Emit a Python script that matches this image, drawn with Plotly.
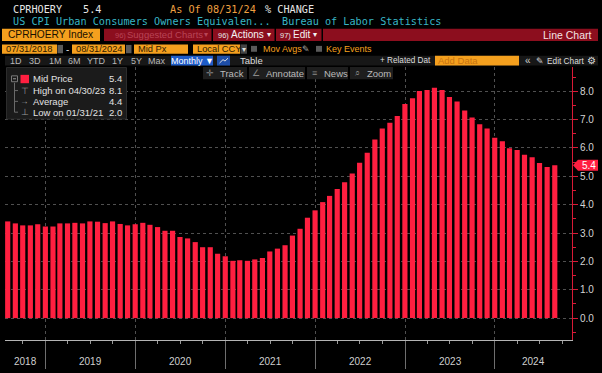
import pandas as pd
import plotly.graph_objects as go

# ---------------- data ----------------
ticker = "CPRHOERY"
security = "CPRHOERY Index"
description = "US CPI Urban Consumers Owners Equivalen..."
source = "Bureau of Labor Statistics"
unit_label = "% CHANGE"
start_label = "07/31/2018"
end_label = "08/31/2024"
dates = pd.date_range("2018-07-31", "2024-08-31", freq="ME")
values = [
    3.41, 3.34, 3.27, 3.27, 3.31, 3.23,                                      # 2018 H2
    3.23, 3.34, 3.34, 3.36, 3.34, 3.41, 3.40, 3.35, 3.41, 3.32, 3.27, 3.31,  # 2019
    3.36, 3.29, 3.21, 3.08, 3.08, 2.86, 2.81, 2.68, 2.50, 2.50, 2.27, 2.18,  # 2020
    2.02, 2.04, 2.02, 2.07, 2.12, 2.35, 2.45, 2.57, 2.91, 3.15, 3.54, 3.80,  # 2021
    4.09, 4.31, 4.55, 4.79, 5.10, 5.48, 5.83, 6.30, 6.69, 6.89, 7.13, 7.55,  # 2022
    7.75, 8.01, 8.04, 8.12, 8.04, 7.80, 7.64, 7.32, 7.07, 6.84, 6.69, 6.36,  # 2023
    6.24, 5.99, 5.93, 5.76, 5.67, 5.47, 5.33, 5.39,                          # 2024
]
years = [2018, 2019, 2020, 2021, 2022, 2023, 2024]
y_ticks = [0, 1, 2, 3, 4, 5, 6, 7, 8]
period_buttons = ["1D", "3D", "1M", "6M", "YTD", "1Y", "5Y", "Max"]

s = pd.Series(values, index=dates)
last_v = s.iloc[-1]
hi_v, hi_d = s.max(), s.idxmax()
lo_v, lo_d = s.min(), s.idxmin()
avg_v = s.mean()

# ---------------- geometry / style ----------------
W, H = 602, 373
L, R, T, B = 5, 572, 67, 345
X_RANGE = [pd.Timestamp("2018-07-20"), pd.Timestamp("2024-11-09")]
Y_RANGE = [-0.772, 8.855]

MONO = "DejaVu Sans Mono, Liberation Mono, monospace"
SANS = "Liberation Sans, Arial, sans-serif"
ORANGE = "#F5A01E"
DRED = "#8C0E1E"
BAR = "#FF1F40"
AXRED = "#D81A36"
GRID = "#505050"


def PX(x):
    return (x - L) / (R - L)


def PY(y):
    return (B - y) / (B - T)


shapes, annos = [], []


def rect(x0, y0, x1, y1, fill, line=None):
    shapes.append(dict(type="rect", xref="paper", yref="paper",
                       x0=PX(x0), x1=PX(x1), y0=PY(y1), y1=PY(y0),
                       fillcolor=fill, layer="above",
                       line=dict(width=0) if line is None else dict(color=line, width=1)))


def seg(x0, y0, x1, y1, color, width=1):
    shapes.append(dict(type="line", xref="paper", yref="paper",
                       x0=PX(x0), x1=PX(x1), y0=PY(y0), y1=PY(y1), layer="above",
                       line=dict(color=color, width=width)))


def text(x, y, s_, color, size, family=SANS, anchor="left"):
    annos.append(dict(xref="paper", yref="paper", x=PX(x), y=PY(y), text=s_,
                      showarrow=False, xanchor=anchor, yanchor="middle",
                      borderpad=0, font=dict(color=color, size=size, family=family)))


# ---- row 1 / row 2 : header ----
text(12, 8, ticker, "#E6E6E6", 10.2, MONO)
text(82, 8, f"{last_v:.1f}", "#E6E6E6", 10.2, MONO)
text(169, 8, f"As Of {dates[-1]:%m/%d/%y}", "#F0A040", 10.2, MONO)
text(264, 8, unit_label, "#E6E6E6", 10.2, MONO)
text(12, 20.5, description, "#38B6C6", 10.2, MONO)
text(281, 20.5, source, "#38B6C6", 10.2, MONO)

# ---- row 3 ----
rect(2, 28, 100, 40.5, ORANGE)
text(7, 34.3, security, "#1A1000", 10.2)
rect(104, 28, 211.5, 40.5, DRED)
rect(213, 28, 274.5, 40.5, DRED)
rect(276, 28, 321.5, 40.5, DRED)
rect(323, 28, 598, 40.5, DRED)
text(114, 34.5, "96)", "#B84456", 7.5)
text(126, 34.3, "Suggested Charts", "#B84456", 9.5)
text(206, 34.3, "\u25be", "#B84456", 8, anchor="center")
text(217, 34.5, "96)", "#E8E8E8", 7.5)
text(230, 34.3, "Actions", "#F4F4F4", 10)
text(269, 34.3, "\u25be", "#F4F4F4", 8, anchor="center")
text(279, 34.5, "97)", "#E8E8E8", 7.5)
text(292, 34.3, "Edit", "#F4F4F4", 10)
text(315, 34.3, "\u25be", "#F4F4F4", 8, anchor="center")
text(593, 34.3, "Line Chart", "#F4E4E4", 10.5, anchor="right")

# ---- row 4 ----
for (x0, x1, lab) in [(2, 57, start_label), (72, 125, end_label), (134, 188, "Mid Px"), (193, 240, "Local CCY")]:
    rect(x0, 44, x1, 53.5, ORANGE)
    text(x0 + 3, 48.8, lab, "#2A1800", 9.3)
for x0 in (57.5, 126):
    rect(x0, 44.5, x0 + 5.5, 53, "#5A5A5A")
rect(240.5, 44, 247, 53.5, "#444444")
text(243.7, 48.8, "\u25be", "#DDDDDD", 8, anchor="center")
text(67, 48.8, "-", "#DDDDDD", 10, anchor="center")
rect(251, 45.5, 257, 51.5, "#5A5A5A")
text(262, 48.8, "Mov Avgs", ORANGE, 9)
text(306, 48.8, "\u270e", "#AAAAAA", 8.5, anchor="center")
rect(316, 45.5, 322, 51.5, "#5A5A5A")
text(325, 48.8, "Key Events", ORANGE, 9)

# ---- row 5 ----
rect(5, 55.5, 598, 65.5, "#171717")
btn_centers = [16, 35, 55, 74, 96, 117, 136, 157]
for cx, lab in zip(btn_centers, period_buttons):
    text(cx, 60.5, lab, "#B8B8B8", 9, anchor="center")
rect(171, 55.5, 213, 65.5, "#1E5CC8")
text(192, 60.5, "Monthly \u25bc", "#FFFFFF", 9, anchor="center")
rect(217, 55.5, 230, 65.5, "#1E4EA8")
seg(219.5, 63, 223, 59.5, "#E0E0E0")
seg(223, 59.5, 225, 61, "#E0E0E0")
seg(225, 61, 228, 58, "#E0E0E0")
text(251, 60.5, "Table", "#DDDDDD", 9.5, anchor="center")
text(379, 60.5, "+ Related Dat", "#DDDDDD", 8.2)
rect(435, 55.5, 519, 65.5, ORANGE)
text(437, 60.5, "Add Data", "#C87410", 9.5)
text(528, 60.5, "\u00ab", "#CCCCCC", 10, anchor="center")
text(540, 60.5, "\u270e", "#DDDDDD", 8.5, anchor="center")
text(546, 60.5, "Edit Chart", "#DDDDDD", 8.3)
text(591, 60.5, "\u2699", "#DDDDDD", 10, anchor="center")

# ---- row 6 toolbar ----
for (x0, x1, icon, lab) in [(203, 247, "\u271b", "Track"), (249, 305, "\u2220", "Annotate"),
                            (307, 348, "\u2261", "News"), (350, 393, "\u2315", "Zoom")]:
    rect(x0, 67, x1, 79.5, "#1E1E1E")
    text(x0 + 7, 73.3, icon, "#8A8A8A", 9, anchor="center")
    text(x0 + 16, 73.3, lab, "#BBBBBB", 9.5)

# ---- legend box ----
rect(6.5, 67.5, 126.5, 120, "#1B1B1B", line="#2C2C2C")
rect(11.5, 76, 17.5, 82, "#1B1B1B", line="#7A7A7A")
seg(13, 79, 16, 79, "#9A9A9A")
seg(14.5, 83, 14.5, 113, "#6A6A6A")
for yy in (91, 102, 113):
    seg(14.5, yy, 18, yy, "#6A6A6A")
rect(20.5, 75, 29, 83.5, BAR)
legend_rows = [
    (79, None, "Mid Price", f"{last_v:.1f}"),
    (91, "\u22a4", f"High on {hi_d:%m/%d/%y}", f"{hi_v:.1f}"),
    (102, "\u2192", "Average", f"{avg_v:.1f}"),
    (113, "\u22a5", f"Low on {lo_d:%m/%d/%y}", f"{lo_v:.1f}"),
]
for yy, sym, lab, val in legend_rows:
    if sym:
        text(24.5, yy, sym, "#9A9A9A", 8.5, anchor="center")
    text(31.5, yy, lab, "#E2E2E2", 9.5)
    text(122.5, yy, val, "#E2E2E2", 9.5, anchor="right")

# ---- last value tag on axis ----
shapes.append(dict(type="path", xref="paper", yref="y", xsizemode="pixel", ysizemode="pixel",
                   xanchor=1, yanchor=last_v, layer="above",
                   path="M 1 0 L 6 5.5 L 26 5.5 L 26 -5.5 L 6 -5.5 Z",
                   fillcolor=BAR, line=dict(width=0)))
annos.append(dict(xref="paper", yref="y", x=1, y=last_v, xshift=16.5, text=f"{last_v:.1f}",
                  showarrow=False, xanchor="center", yanchor="middle",
                  font=dict(color="#FFFFFF", size=10, family=SANS)))

# ---- year labels (centred on visible part of each year) ----
for yr in years:
    a = max(pd.Timestamp(f"{yr}-01-01"), X_RANGE[0])
    b = min(pd.Timestamp(f"{yr + 1}-01-01"), X_RANGE[1])
    mid = a + (b - a) / 2
    annos.append(dict(xref="x", yref="paper", x=mid, y=PY(366.5), text=str(yr),
                      showarrow=False, xanchor="center", yanchor="middle",
                      font=dict(color="#CFCFCF", size=10, family=SANS)))

year_starts = [pd.Timestamp(f"{yr}-01-01") for yr in years[1:]]
quarter_ticks = list(pd.date_range("2018-10-01", "2024-10-01", freq="QS"))

fig = go.Figure()
fig.add_trace(go.Bar(x=dates, y=values, marker=dict(color=BAR, line=dict(width=0)),
                     width=21 * 24 * 3600 * 1000, hoverinfo="skip", showlegend=False))

fig.update_layout(
    width=W, height=H,
    margin=dict(l=L, r=W - R, t=T, b=H - B, pad=0),
    paper_bgcolor="#000000", plot_bgcolor="#000000",
    showlegend=False,
    xaxis=dict(type="date", range=X_RANGE, tickvals=year_starts, showticklabels=False,
               ticks="outside", ticklen=28, tickcolor="#6E6E6E", tickwidth=1,
               showgrid=True, gridcolor=GRID, griddash="dot", gridwidth=1,
               showline=True, linecolor="#B4B4B4", linewidth=1, zeroline=False,
               minor=dict(tickvals=quarter_ticks, ticks="outside", ticklen=3,
                          tickcolor="#9A9A9A", showgrid=False)),
    yaxis=dict(side="right", range=Y_RANGE, tickvals=y_ticks, tickformat=".1f",
               ticks="outside", ticklen=5, tickcolor=AXRED, tickwidth=1,
               showline=True, linecolor=AXRED, linewidth=1,
               showgrid=True, gridcolor=GRID, griddash="dot", gridwidth=1, zeroline=False,
               tickfont=dict(color="#D4D4D4", size=10, family=SANS),
               minor=dict(dtick=0.5, tick0=0, ticks="outside", ticklen=3,
                          tickcolor=AXRED, showgrid=False)),
    shapes=shapes,
    annotations=annos,
)

fig.write_html("out.html", config={"displayModeBar": False},
               post_script="document.body.style.margin='0';document.body.style.background='#000';")
